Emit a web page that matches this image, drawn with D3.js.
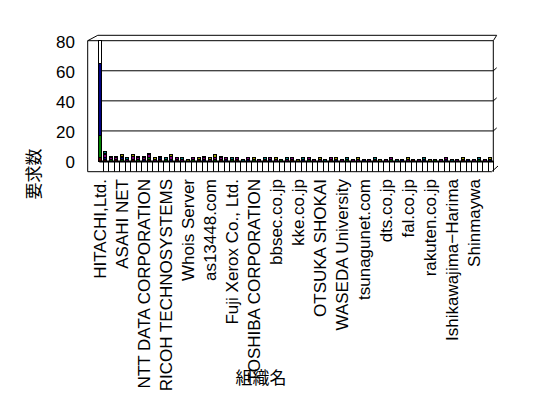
<!DOCTYPE html>
<html><head><meta charset="utf-8">
<script src="https://cdn.jsdelivr.net/npm/d3@7/dist/d3.min.js"></script>
<style>html,body{margin:0;padding:0;background:#fff;}svg{display:block;}</style>
</head><body>
<svg id="chart" width="548" height="398"></svg>
<script>
// ---- data ----
const tickLabels = ["HITACHI,Ltd.","ASAHI NET","NTT DATA CORPORATION","RICOH TECHNOSYSTEMS","Whois Server","as13448.com","Fuji Xerox Co., Ltd.","TOSHIBA CORPORATION","bbsec.co.jp","kke.co.jp","OTSUKA SHOKAI","WASEDA University","tsunagunet.com","dts.co.jp","fal.co.jp","rakuten.co.jp","Ishikawajima\u2212Harima","Shinmaywa"];
const yTicks = [0,20,40,60,80];
const s1 = [2,1,0,1,0,0,1,0,0,1,0,1,0,0,1,0,0,0,1,0, 0,0,1,0,0,1,0,0,0,0,1,0,0,0,0,1,0,0,0,0, 0,0,1,0,0,0,0,0,0,0,1,0,0,0,0,0,0,1,0,0, 0,0,0,0,0,0,1,0,0,0,0,0];
const s2 = [15,0,1,0,1,0,0,1,0,1,0,0,1,0,0,0,0,1,0,0, 0,1,0,0,1,0,0,0,1,0,0,0,0,1,0,0,0,0,1,0, 0,0,0,0,0,1,0,0,0,0,0,0,0,1,0,0,0,0,0,0, 0,1,0,0,0,0,0,0,0,1,0,0];
const s3 = [48,1,0,0,1,0,0,0,1,0,0,1,0,1,0,0,0,0,0,1, 0,0,0,1,0,0,0,1,0,0,0,1,0,0,0,0,0,1,0,0, 0,0,0,1,0,0,0,0,1,0,0,0,0,0,0,1,0,0,0,1, 0,0,0,1,0,0,0,1,0,0,0,1];
const s4 = [15,0,0,0,0,0,0,0,0,0,0,0,0,0,0,0,0,0,0,0, 0,0,0,0,0,0,0,0,0,0,0,0,0,0,0,0,0,0,0,0, 0,0,0,0,0,0,0,0,0,0,0,0,0,0,0,0,0,0,0,0, 0,0,0,0,0,0,0,0,0,0,0,0];
const s5 = [0,2,1,1,1,1,2,1,1,2,1,1,0,2,1,1,0,1,0,1, 1,1,1,1,0,1,0,1,0,1,0,1,1,0,1,1,0,0,1,1, 1,0,1,0,1,0,1,1,0,1,0,0,1,1,0,0,1,0,1,0, 0,0,1,1,0,1,0,0,1,0,1,0];
const s6 = [0,1,1,0,1,0,1,0,1,0,1,0,0,1,0,0,1,0,1,0, 1,2,0,0,0,0,0,0,1,0,0,0,1,0,0,0,1,0,0,0, 1,0,0,1,0,0,0,1,0,0,0,1,0,0,0,0,1,0,0,0, 1,0,0,0,0,0,1,0,0,0,0,1];
const s7 = [0,1,0,1,0,1,0,1,0,1,0,0,1,0,0,1,0,0,0,1, 0,0,1,0,1,0,1,0,0,0,1,0,0,0,1,0,0,1,0,0, 0,1,0,0,0,1,0,0,0,0,1,0,0,0,1,0,0,0,0,1, 0,0,0,0,1,0,0,0,0,1,0,0];
const seriesKeys = ["s1","s2","s3","s4","s5","s6","s7"];
const seriesData = {s1,s2,s3,s4,s5,s6,s7};
const labelEvery = 4;

// ---- styles / layout ----
const colors = {s1:"#600000", s2:"#008000", s3:"#000080", s4:"#ffffff", s5:"#800080", s6:"#a0a000", s7:"#008080"};
const N = s1.length;
const wallL = 99.3, wallR = 493.3, frontL = 87.7, floorFront = 171.7, lidY = 35.3;
const svg = d3.select("#chart");
const x = d3.scaleBand().domain(d3.range(N)).range([97, 493]).padding(0);
const y = d3.scaleLinear().domain([0, 80]).range([161, 40.7]);

const rows = d3.range(N).map(i => { const r = {i}; seriesKeys.forEach(k => r[k] = seriesData[k][i]); return r; });
const stacked = d3.stack().keys(seriesKeys)(rows);

const g = svg.append("g").attr("stroke", "#000").attr("fill", "none").attr("stroke-width", 1);
// lid / frame
g.append("path").attr("d", `M${frontL},${y(80)} L${wallL-1.5},${lidY} L${wallR+3.4},${lidY} L${wallR},${y(80)} Z`);
g.append("line").attr("x1", frontL).attr("x2", frontL).attr("y1", y(80)).attr("y2", floorFront);
g.append("line").attr("x1", wallL).attr("x2", wallL).attr("y1", y(80)).attr("y2", y(0));
g.append("line").attr("x1", wallR).attr("x2", wallR).attr("y1", y(80)).attr("y2", y(0));
// gridlines
yTicks.filter(v => v > 0 && v < 80).forEach(v => {
  g.append("line").attr("x1", wallL).attr("x2", wallR).attr("y1", y(v)).attr("y2", y(v));
  g.append("line").attr("x1", wallR).attr("x2", wallR + 3.4).attr("y1", y(v)).attr("y2", y(v) - 3);
});
// floor
g.append("line").attr("x1", frontL).attr("x2", 491.7).attr("y1", floorFront).attr("y2", floorFront);
g.append("line").attr("x1", 491.7).attr("x2", 498).attr("y1", floorFront).attr("y2", 166);
d3.range(1, N + 1).forEach(i => {
  const xx = Math.round(x(0) + i * x.bandwidth()) + 0.5;
  g.append("line").attr("x1", xx).attr("x2", xx).attr("y1", y(0)).attr("y2", floorFront);
});

// bars
const bars = svg.append("g").attr("shape-rendering", "crispEdges");
stacked.forEach(layer => {
  bars.append("g").attr("fill", colors[layer.key]).attr("stroke", "#000")
    .selectAll("rect").data(layer.filter(d => d[1] > d[0])).join("rect")
    .attr("x", d => Math.round(x(d.data.i) + 0.8) + 0.5)
    .attr("width", 3)
    .attr("y", d => y(d[1]))
    .attr("height", d => y(d[0]) - y(d[1]));
});
svg.append("line").attr("x1", wallL).attr("x2", wallR).attr("y1", y(0) + 0.5).attr("y2", y(0) + 0.5)
  .attr("stroke", "#000").attr("stroke-width", 2);

// y tick labels
svg.append("g").selectAll("text").data(yTicks).join("text")
  .attr("x", 75).attr("y", d => y(d) + 1.5)
  .attr("text-anchor", "end").attr("dominant-baseline", "central")
  .attr("font-family", "Liberation Sans, Arial, sans-serif").attr("font-size", 17)
  .text(d => d);

// x tick labels
svg.append("g").selectAll("text").data(tickLabels).join("text")
  .attr("transform", (d, j) => `translate(${x(j * labelEvery) + x.bandwidth() / 2 + 0.3},179) rotate(-90)`)
  .attr("text-anchor", "end").attr("dominant-baseline", "central")
  .attr("font-family", "Liberation Sans, Arial, sans-serif").attr("font-size", 17)
  .text(d => d);

// axis titles
svg.append("text").attr("transform", "translate(32,174) rotate(-90)")
  .attr("text-anchor", "middle").attr("dominant-baseline", "central")
  .attr("font-family", "Noto Sans CJK JP, sans-serif").attr("font-size", 17).text("要求数");
svg.append("text").attr("x", 261).attr("y", 376)
  .attr("text-anchor", "middle").attr("dominant-baseline", "central")
  .attr("font-family", "Noto Sans CJK JP, sans-serif").attr("font-size", 17).text("組織名");
</script>
</body></html>
